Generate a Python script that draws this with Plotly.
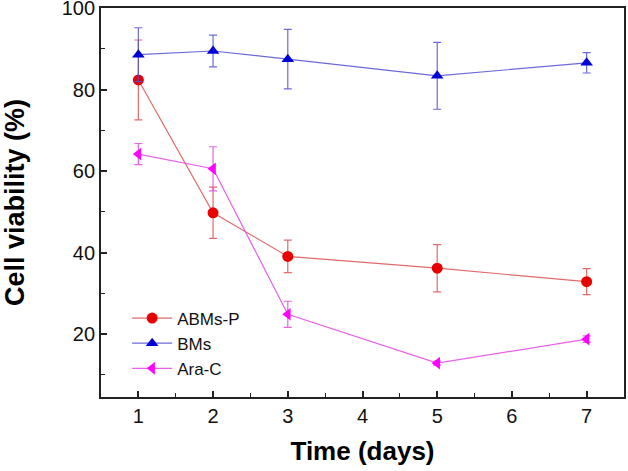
import plotly.graph_objects as go

days = [1, 2, 3, 5, 7]
abms_p = [82.4, 49.8, 39.1, 36.2, 32.9]
abms_p_err = [9.8, 6.3, 4.0, 5.8, 3.2]
bms = [88.6, 89.5, 87.5, 83.4, 86.6]
bms_err = [6.6, 3.9, 7.3, 8.2, 2.5]
ara_c = [64.2, 60.6, 24.9, 12.9, 18.8]
ara_c_err = [2.6, 5.4, 3.2, 0.5, 0.8]

series = [
    ("ABMs-P", abms_p, abms_p_err, "circle", "#e80000", "rgba(220,80,80,0.85)"),
    ("BMs", bms, bms_err, "triangle-up", "#0000d8", "rgba(80,80,210,0.85)"),
    ("Ara-C", ara_c, ara_c_err, "triangle-left", "#ff00ff", "rgba(230,80,230,0.9)"),
]

fig = go.Figure()
for name, vals, errs, sym, mcol, lcol in series:
    fig.add_trace(go.Scatter(
        x=days, y=vals, name=name, mode="lines+markers",
        line=dict(color=lcol, width=1.2),
        marker=dict(symbol=sym, size=11, color=mcol),
        error_y=dict(type="data", array=errs, visible=True, color=lcol, thickness=1.2, width=4),
        cliponaxis=False,
    ))

FONT = "Liberation Sans, Arial"
axis_common = dict(
    showline=True, linecolor="#222", linewidth=1.8, mirror=True,
    ticks="inside", tickcolor="#222", ticklen=6, tickwidth=1.5,
    showgrid=False, zeroline=False, automargin=False,
    ticklabeloverflow="allow",
    tickfont=dict(family=FONT, size=20, color="#111"),
)

fig.update_xaxes(range=[0.5, 7.5], tickvals=[1, 2, 3, 4, 5, 6, 7],
                 title=dict(text="<b>Time (days)</b>", font=dict(family=FONT, size=26, color="#000"), standoff=16),
                 minor=dict(ticks="inside", ticklen=4, tickwidth=1.2, tickcolor="#222", dtick=0.5, tick0=0.5),
                 **axis_common)
fig.update_yaxes(range=[4.6, 100.05], tickvals=[20, 40, 60, 80, 100],
                 title=dict(text="<b>Cell viability (%)</b>", font=dict(family=FONT, size=27, color="#000"), standoff=30),
                 minor=dict(ticks="inside", ticklen=4, tickwidth=1.2, tickcolor="#222", dtick=10, tick0=0),
                 **axis_common)

fig.update_layout(
    width=628, height=471,
    margin=dict(l=101, r=4, t=8, b=74),
    plot_bgcolor="white", paper_bgcolor="white",
    font=dict(family=FONT, color="#111"),
    legend=dict(x=0.05, y=0.248, xanchor="left", yanchor="top",
                font=dict(family=FONT, size=17, color="#111"), bgcolor="rgba(0,0,0,0)",
                itemwidth=40, tracegroupgap=0),
    showlegend=True,
)

fig.write_html("out.html", config={"displayModeBar": False},
               post_script="document.body.style.margin='0';document.body.style.overflow='hidden';")
